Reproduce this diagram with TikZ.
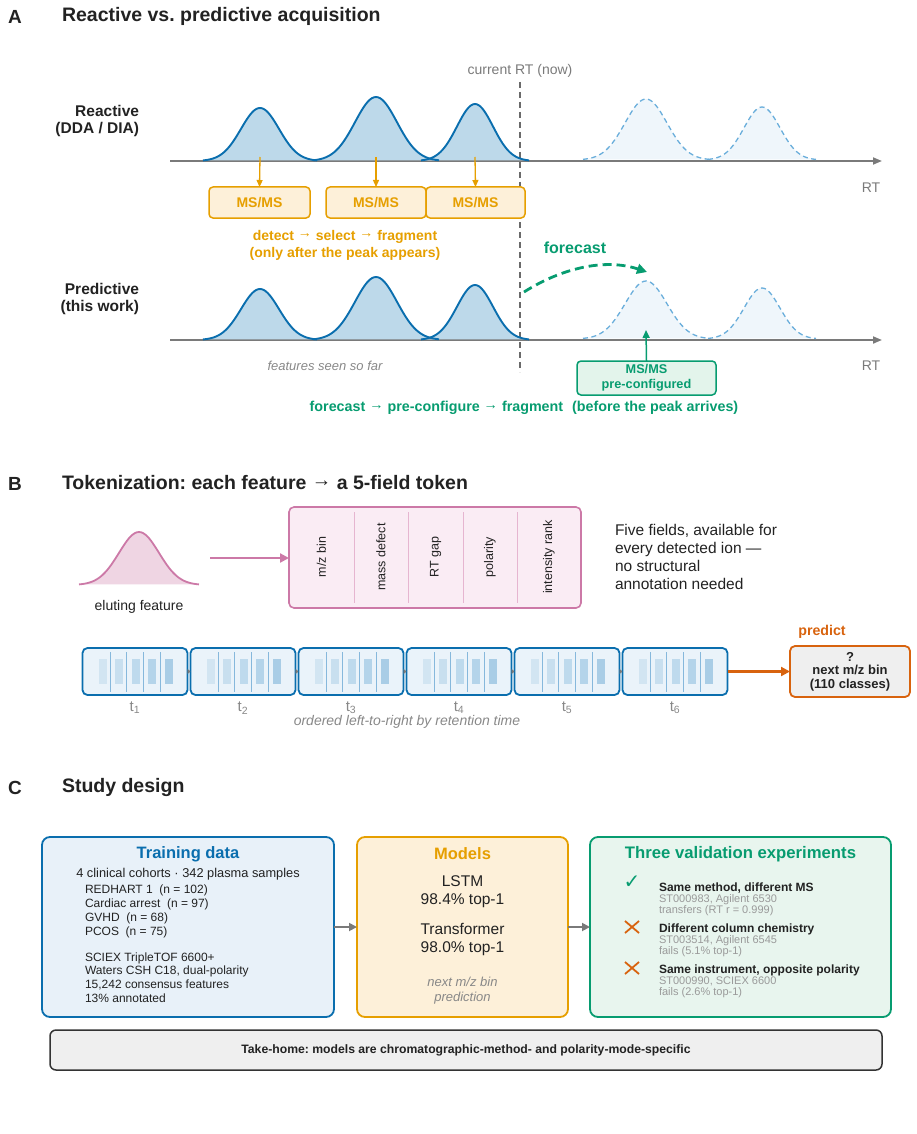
\documentclass[tikz,border=0pt]{standalone}
\usepackage{fontspec}
\setmainfont{Liberation Sans}
\newfontfamily\dejavu{DejaVu Sans}
\usetikzlibrary{arrows.meta,calc}
\newcommand\fsz[2]{\fontsize{#1}{#2}\selectfont}
\newcommand\rarr{\raisebox{0.17em}{→}}
\frenchspacing
\definecolor{cblue}{HTML}{0A6EAE}
\definecolor{cpeak}{HTML}{BDD9EA}
\definecolor{csky}{HTML}{6AAEDB}
\definecolor{cskyfill}{HTML}{EFF6FB}
\definecolor{corange}{HTML}{E69F00}
\definecolor{corangefill}{HTML}{FDF0D9}
\definecolor{cgreen}{HTML}{079C70}
\definecolor{cgreenfill}{HTML}{E3F4EB}
\definecolor{cverm}{HTML}{D8630E}
\definecolor{cpink}{HTML}{CC79A7}
\definecolor{cpinkdiv}{HTML}{E6B5D0}
\definecolor{cpinkfill}{HTML}{FAECF4}
\definecolor{cpinkpeak}{HTML}{EFD5E3}
\definecolor{caxis}{HTML}{7A7A7A}
\definecolor{cnow}{HTML}{6A6A6A}
\definecolor{cgraytext}{HTML}{888888}
\definecolor{clight}{HTML}{9A9A9A}
\definecolor{ctext}{HTML}{222222}
\definecolor{ctokfill}{HTML}{EAF3FA}
\definecolor{cdiv}{HTML}{86B8DC}
\definecolor{cbarA}{HTML}{D2E5F2}
\definecolor{cbarB}{HTML}{C8DFEF}
\definecolor{cbarC}{HTML}{BEDAED}
\definecolor{cbarD}{HTML}{B4D4EA}
\definecolor{cbarE}{HTML}{A9CDE6}
\definecolor{cbluefill}{HTML}{E8F1F9}
\definecolor{cvalfill}{HTML}{E8F5EE}
\definecolor{ctakefill}{HTML}{EFEFEF}
\definecolor{ctakeborder}{HTML}{333333}
\begin{document}
\begin{tikzpicture}[x=1pt,y=-1pt,
  every node/.style={text=ctext, inner sep=0pt, outer sep=0pt},
  letter/.style={font=\fsz{19}{22}\bfseries, anchor=center},
  title/.style={font=\fsz{19.5}{22}\bfseries, anchor=west},
  rowlab/.style={font=\fsz{15.5}{17}\bfseries, align=right, anchor=east},
  axisln/.style={draw=caxis, line width=1.8pt, -{Triangle[length=9pt,width=7pt]}},
  pkline/.style={draw=cblue, line width=1.9pt},
  fut/.style={draw=csky, line width=1.3pt, dash pattern=on 5pt off 3.5pt},
  nowln/.style={draw=cnow, line width=1.6pt, dash pattern=on 6pt off 4pt},
  msbox/.style={draw=corange, fill=corangefill, line width=1.5pt, rounded corners=4pt, minimum height=31pt, text=corange, font=\fsz{14}{16}\bfseries},
  oarrow/.style={draw=corange, line width=1.3pt, -{Triangle[length=7pt,width=6pt]}},
  garrow/.style={draw=cgreen, line width=1.5pt, -{Triangle[length=8pt,width=7pt]}},
  fcarrow/.style={draw=cgreen, line width=2.8pt, dash pattern=on 9pt off 5pt, -{Triangle[length=10pt,width=10pt]}},
  gbox/.style={draw=cgreen, fill=cgreenfill, line width=1.5pt, rounded corners=4pt, text=cgreen, align=center, font=\fsz{12.7}{15}\bfseries},
  tok/.style={draw=cblue, fill=ctokfill, line width=1.8pt, rounded corners=5pt, minimum width=105pt, minimum height=47pt},
  tconn/.style={draw=caxis, line width=1.4pt, -{Triangle[length=3pt,width=5pt]}},
  tlab/.style={text=cgraytext, font=\fsz{15}{17}},
  bigbox/.style={line width=1.8pt, rounded corners=8pt, minimum height=180pt},
  carrow/.style={draw=caxis, line width=1.8pt, -{Triangle[length=8pt,width=8pt]}},
  boxtitle/.style={font=\fsz{16.5}{19}\bfseries},
  body/.style={font=\fsz{12}{14}, anchor=west},
  vb/.style={font=\fsz{12}{14}\bfseries, anchor=west},
  vg/.style={font=\fsz{11}{13}, anchor=west, text=clight},
]
\useasboundingbox (0,0) rectangle (916,1134);

% ===================== Panel A =====================
\node[letter] (lA) at (15,17) {A};
\node[title] (tA) at (62,16) {Reactive vs. predictive acquisition};

\node[text=caxis, font=\fsz{14}{16}] (nowlab) at (520,71) {current RT (now)};
\coordinate (nowtop) at (520,82);
\coordinate (nowbot) at (520,372);
\draw[nowln] (nowtop) -- (nowbot);

% Reactive row
\node[rowlab] (rlab) at (139,121) {Reactive\\(DDA / DIA)};
\coordinate (ra0) at (170,161);
\coordinate (ra1) at (882,161);
\draw[axisln] (ra0) -- (ra1);
\node[text=caxis, font=\fsz{14}{16}] (rtA) at (871,188) {RT};

\foreach \c/\s/\h in {260/19/53,376/21/64,475/18/57}{
  \fill[cpeak] plot[domain=-3:3,samples=61,variable=\t] ({\c+\s*\t},{161-\h*exp(-0.5*((\t)*(\t)))});
}
\foreach \c/\s/\h in {260/19/53,376/21/64,475/18/57}{
  \draw[pkline] plot[domain=-3:3,samples=61,variable=\t] ({\c+\s*\t},{161-\h*exp(-0.5*((\t)*(\t)))});
}
\foreach \c/\s/\h in {646/21/61,762/18/53}{
  \fill[cskyfill] plot[domain=-3:3,samples=61,variable=\t] ({\c+\s*\t},{160-\h*exp(-0.5*((\t)*(\t)))});
  \draw[fut] plot[domain=-3:3,samples=61,variable=\t] ({\c+\s*\t},{160-\h*exp(-0.5*((\t)*(\t)))});
}

\node[msbox, minimum width=101pt] (ms1) at (259.5,202.5) {MS/MS};
\node[msbox, minimum width=100pt] (ms2) at (376,202.5) {MS/MS};
\node[msbox, minimum width=99pt] (ms3) at (475.5,202.5) {MS/MS};
\coordinate (p1b) at (260,157);
\coordinate (p2b) at (376,157);
\coordinate (p3b) at (475,157);
\draw[oarrow] (p1b) -- (ms1.north);
\draw[oarrow] (p2b) -- (ms2.north);
\draw[oarrow] (p3b) -- (ms3.north);

\node[text=corange, font=\fsz{14}{17}\bfseries, align=center] (detect) at (345,245) {detect \rarr{} select \rarr{} fragment\\(only after the peak appears)};

% Predictive row
\node[rowlab] (plab) at (139,299) {Predictive\\(this work)};
\coordinate (pa0) at (170,340);
\coordinate (pa1) at (882,340);
\draw[axisln] (pa0) -- (pa1);
\node[text=caxis, font=\fsz{14}{16}] (rtB) at (871,366) {RT};

\foreach \c/\s/\h in {260/19/51,376/21/63,475/18/55}{
  \fill[cpeak] plot[domain=-3:3,samples=61,variable=\t] ({\c+\s*\t},{340-\h*exp(-0.5*((\t)*(\t)))});
}
\foreach \c/\s/\h in {260/19/51,376/21/63,475/18/55}{
  \draw[pkline] plot[domain=-3:3,samples=61,variable=\t] ({\c+\s*\t},{340-\h*exp(-0.5*((\t)*(\t)))});
}
\foreach \c/\s/\h in {646/21/58,762/18/51}{
  \fill[cskyfill] plot[domain=-3:3,samples=61,variable=\t] ({\c+\s*\t},{339-\h*exp(-0.5*((\t)*(\t)))});
  \draw[fut] plot[domain=-3:3,samples=61,variable=\t] ({\c+\s*\t},{339-\h*exp(-0.5*((\t)*(\t)))});
}

\node[text=cgreen, font=\fsz{16}{18}\bfseries] (fclab) at (575,248) {forecast};
\coordinate (fcs) at (524,292);
\coordinate (fce) at (647,272);
\draw[fcarrow] (fcs) .. controls (562,268) and (605,258) .. (fce);

\node[gbox, minimum width=139pt, minimum height=34pt] (pre) at (646.5,378) {MS/MS\\pre-configured};
\coordinate (pretip) at (646,330);
\draw[garrow] (pre.north) -- (pretip);

\node[text=cgraytext, font=\fsz{13}{15}\itshape] (seen) at (325,366) {features seen so far};
\node[text=cgreen, font=\fsz{14.3}{16}\bfseries] (fcline) at (524,408) {forecast \rarr{} pre-configure \rarr{} fragment\hspace{9pt}(before the peak arrives)};

% ===================== Panel B =====================
\node[letter] (lB) at (15,484) {B};
\node[title] (tB) at (62,483) {Tokenization: each feature \rarr{} a 5-field token};

\fill[cpinkpeak] plot[domain=-3:3,samples=61,variable=\t] ({139+20*\t},{585-53*exp(-0.5*((\t)*(\t)))});
\draw[draw=cpink, line width=1.8pt] plot[domain=-3:3,samples=61,variable=\t] ({139+20*\t},{585-53*exp(-0.5*((\t)*(\t)))});
\node[font=\fsz{14}{16}] (elut) at (139,607) {eluting feature};

\node[draw=cpink, fill=cpinkfill, line width=1.6pt, rounded corners=5pt, minimum width=292pt, minimum height=101pt] (token) at (435,557.5) {};
\coordinate (elutR) at (210,558);
\draw[draw=cpink, line width=2.2pt, -{Triangle[length=9pt,width=9pt]}] (elutR) -- (token.west |- elutR);
\foreach \xx in {354,408,463,517}{
  \draw[cpinkdiv, line width=1pt] (\xx,512) -- (\xx,603);
}
\node[rotate=90, font=\fsz{12.5}{14}] (f1) at (321.5,557) {m/z bin};
\node[rotate=90, font=\fsz{12.5}{14}] (f2) at (381,557) {mass defect};
\node[rotate=90, font=\fsz{12.5}{14}] (f3) at (435.5,557) {RT gap};
\node[rotate=90, font=\fsz{12.5}{14}] (f4) at (490,557) {polarity};
\node[rotate=90, font=\fsz{12.5}{14}] (f5) at (549,557) {intensity rank};

\node[anchor=west, align=left, font=\fsz{15.5}{18}] (five) at (615,557) {Five fields, available for\\every detected ion ---\\no structural\\annotation needed};

% token sequence
\foreach \i in {1,...,6}{
  \pgfmathsetmacro\cx{135+108*(\i-1)}
  \node[tok] (t\i) at (\cx,671.5) {};
  \fill[cbarA] ({\cx-36.5},659) rectangle ({\cx-28.5},684);
  \fill[cbarB] ({\cx-20.5},659) rectangle ({\cx-12.5},684);
  \fill[cbarC] ({\cx-3.5},659) rectangle ({\cx+4.5},684);
  \fill[cbarD] ({\cx+12.5},659) rectangle ({\cx+20.5},684);
  \fill[cbarE] ({\cx+29.5},659) rectangle ({\cx+37.5},684);
  \foreach \d in {-24.5,-8.5,8.5,25.5}{
    \draw[cdiv, line width=1pt] ({\cx+\d},652) -- ({\cx+\d},692);
  }
  \node[tlab] (tl\i) at (\cx,708) {t\textsubscript{\i}};
}
\foreach \i/\j in {1/2,2/3,3/4,4/5,5/6}{
  \draw[tconn] (t\i.east) -- (t\j.west);
}
\node[draw=cverm, fill=ctakefill, line width=1.8pt, rounded corners=5pt, minimum width=120pt, minimum height=51pt, align=center, font=\fsz{13}{13.5}\bfseries] (pred) at (850,671.5) {?\\next m/z bin\\(110 classes)};
\draw[draw=cverm, line width=2.2pt, -{Triangle[length=9pt,width=9pt]}] (t6.east) -- (pred.west);
\node[text=cverm, font=\fsz{14.2}{16}\bfseries] (predlab) at (822,632) {predict};
\node[text=cgraytext, font=\fsz{14}{16}\itshape] (order) at (407,722) {ordered left-to-right by retention time};

% ===================== Panel C =====================
\node[letter] (lC) at (15,788) {C};
\node[title] (tC) at (62,787) {Study design};

\node[bigbox, draw=cblue, fill=cbluefill, minimum width=292pt] (train) at (188,927) {};
\node[bigbox, draw=corange, fill=corangefill, minimum width=211pt] (models) at (462.5,927) {};
\node[bigbox, draw=cgreen, fill=cvalfill, minimum width=301pt] (valid) at (740.5,927) {};
\draw[carrow] (train.east) -- (models.west);
\draw[carrow] (models.east) -- (valid.west);

% training
\node[boxtitle, text=cblue] (trT) at (188,854) {Training data};
\node[font=\fsz{12.8}{15}] (tr0) at (188,874) {4 clinical cohorts \textperiodcentered{} 342 plasma samples};
\node[body] (tr1) at (85,890) {REDHART 1\ \ (n = 102)};
\node[body] (tr2) at (85,904) {Cardiac arrest\ \ (n = 97)};
\node[body] (tr3) at (85,918) {GVHD\ \ (n = 68)};
\node[body] (tr4) at (85,932) {PCOS\ \ (n = 75)};
\node[body] (tr5) at (85,958) {SCIEX TripleTOF 6600+};
\node[body] (tr6) at (85,971.5) {Waters CSH C18, dual-polarity};
\node[body] (tr7) at (85,985) {15,242 consensus features};
\node[body] (tr8) at (85,998.5) {13\% annotated};

% models
\node[boxtitle, text=corange] (moT) at (462.5,854) {Models};
\node[font=\fsz{15.5}{18}, align=center] (mo1) at (462.5,892) {LSTM\\98.4\% top-1};
\node[font=\fsz{15.5}{18}, align=center] (mo2) at (462.5,939) {Transformer\\98.0\% top-1};
\node[text=cgraytext, font=\fsz{13}{15}\itshape, align=center] (mo3) at (462.5,990.5) {next m/z bin\\prediction};

% validation
\node[boxtitle, text=cgreen, font=\fsz{16.7}{19}\bfseries] (vaT) at (740.5,854) {Three validation experiments};
\node[text=cgreen, font=\dejavu\fsz{20}{21}] (chk) at (632,882) {✓};
\draw[cverm, line width=1.8pt] (625,921) -- (639,933) (639,921) -- (625,933);
\draw[cverm, line width=1.8pt] (625,962) -- (639,974) (639,962) -- (625,974);
\node[vb] (v1a) at (659,888) {Same method, different MS};
\node[vg] (v1b) at (659,899.5) {ST000983, Agilent 6530};
\node[vg] (v1c) at (659,910.5) {transfers (RT r = 0.999)};
\node[vb] (v2a) at (659,929) {Different column chemistry};
\node[vg] (v2b) at (659,940.5) {ST003514, Agilent 6545};
\node[vg] (v2c) at (659,951.5) {fails (5.1\% top-1)};
\node[vb] (v3a) at (659,970) {Same instrument, opposite polarity};
\node[vg] (v3b) at (659,981.5) {ST000990, SCIEX 6600};
\node[vg] (v3c) at (659,992.5) {fails (2.6\% top-1)};

% take-home
\node[draw=ctakeborder, fill=ctakefill, line width=1.5pt, rounded corners=6pt, minimum width=832pt, minimum height=40pt, font=\fsz{12.2}{14}\bfseries] (take) at (466,1050) {Take-home: models are chromatographic-method- and polarity-mode-specific};
\end{tikzpicture}
\end{document}
